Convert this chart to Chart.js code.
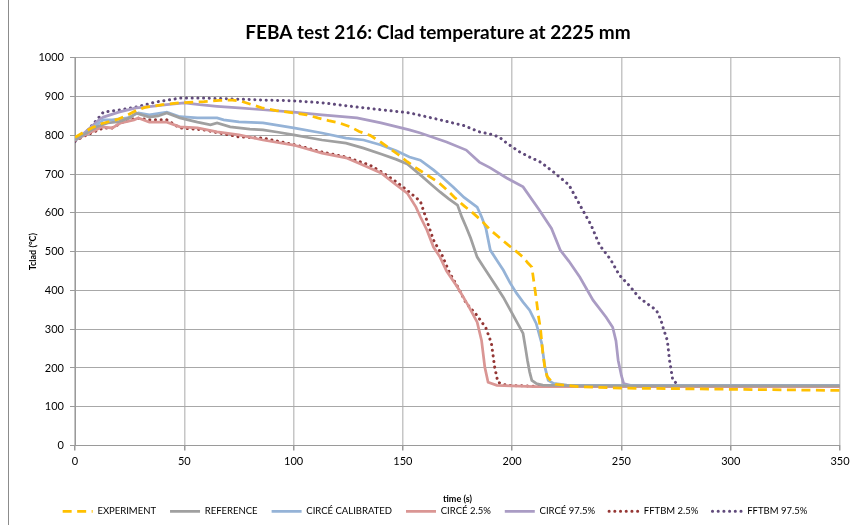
<!DOCTYPE html>
<html>
<head>
<meta charset="utf-8">
<script src="https://cdn.jsdelivr.net/npm/chart.js@4/dist/chart.umd.min.js"></script>
<style>
  body { margin: 0; background: #fff; }
  #wrap { width: 850px; height: 525px; }
</style>
</head>
<body>
<div id="wrap"><canvas id="chart" width="850" height="525"></canvas></div>
<script>
// time (s) / clad temperature (°C) for each curve
const expTime = [0, 4, 8, 12, 16, 20, 24, 28, 32, 40, 48, 59, 66, 72, 76, 81, 86, 92, 100, 106, 111, 116, 121, 126, 130, 135, 139, 143, 148, 152, 156, 161, 166, 170, 174, 178, 182, 186, 190, 194, 198, 202, 205, 207, 209, 210, 211, 212, 213, 214, 215, 216, 218, 220, 230, 250, 300, 350];
const expTemp = [795, 808, 820, 830, 836, 842, 852, 864, 872, 879, 884, 887, 890, 891, 888, 879, 870, 864, 858, 853, 845, 838, 832, 822, 810, 800, 786, 770, 750, 732, 716, 698, 680, 660, 638, 618, 600, 580, 556, 537, 518, 500, 486, 472, 460, 420, 380, 335, 300, 240, 200, 178, 165, 158, 152, 148, 145, 142];

const refTime = [0, 5, 10, 15, 20, 25, 28, 34, 38, 42, 48, 56, 62, 65, 71, 80, 86, 93, 100, 113, 124, 132, 140, 147, 152, 158, 163, 167, 171, 175, 177, 179, 181, 184, 187, 190, 193, 196, 200, 203, 205, 206, 207, 208, 209, 211, 214, 230, 350];
const refTemp = [788, 805, 822, 832, 835, 845, 857, 847, 850, 858, 845, 834, 827, 832, 822, 816, 814, 808, 801, 788, 780, 767, 752, 738, 726, 698, 673, 654, 636, 620, 589, 563, 535, 486, 460, 434, 408, 382, 341, 310, 289, 255, 220, 190, 168, 160, 156, 154, 154];

const calTime = [0, 5, 10, 13, 17, 24, 29, 34, 42, 48, 56, 65, 68, 75, 86, 100, 113, 124, 132, 140, 147, 153, 158, 164, 168, 173, 178, 184, 186, 188, 190, 193, 196, 199, 202, 205, 208, 211, 213.5, 215, 216.5, 219, 225, 350];
const calTemp = [788, 805, 828, 840, 840, 845, 858, 853, 860, 848, 845, 845, 840, 835, 832, 819, 806, 793, 788, 775, 760, 744, 736, 711, 692, 667, 640, 615, 590, 560, 504, 478, 452, 420, 393, 370, 349, 315, 264, 202, 168, 160, 156, 155];

const c25Time = [0, 5, 10, 12, 17, 21, 27, 29, 34, 42, 48, 56, 65, 75, 86, 100, 113, 124, 132, 140, 147, 152, 156, 158, 161, 164, 167, 170, 175, 180, 184, 186, 187.5, 189, 193, 210, 350];
const c25Temp = [788, 802, 815, 822, 819, 832, 840, 845, 834, 834, 822, 819, 809, 801, 788, 775, 754, 742, 723, 703, 672, 651, 615, 590, 556, 512, 486, 450, 408, 360, 318, 271, 202, 163, 155, 152, 152];

const c975Time = [0, 5, 11, 13, 20, 28, 35, 42, 50, 57, 65, 75, 86, 100, 113, 129, 140, 153, 158, 170, 179, 185, 190, 197.5, 205, 212.5, 218, 222, 226, 231, 237, 243, 246, 247.5, 248.5, 250, 251, 255, 350];
const c975Temp = [786, 810, 840, 847, 860, 871, 875, 879, 884, 879, 875, 871, 866, 860, 853, 845, 832, 814, 806, 783, 762, 731, 716, 690, 667, 607, 560, 504, 475, 434, 375, 331, 305, 270, 220, 180, 160, 154, 153];

const f25Time = [0, 5, 10, 13, 17, 21, 28, 34, 42, 48, 59, 66, 75, 86, 101, 113, 124, 135, 141, 147, 152, 158, 162, 164, 168, 171.5, 175, 179, 184, 188, 190.5, 192, 193.5, 197.5, 210, 350];
const f25Temp = [786, 800, 812, 819, 819, 832, 845, 840, 840, 819, 814, 806, 796, 793, 775, 757, 744, 723, 703, 680, 658, 630, 563, 530, 490, 444, 410, 367, 335, 303, 264, 202, 163, 155, 153, 153];

const f975Time = [0, 5, 10, 13, 21, 28, 37, 48, 59, 71, 86, 100, 113, 129, 140, 153, 167, 178, 185, 190, 194, 197.5, 203.5, 208, 213, 219, 226, 232, 236, 240, 245, 249, 254, 258, 262, 266, 268, 269, 271, 272, 273.5, 276.5, 350];
const f975Temp = [784, 808, 840, 860, 866, 873, 886, 896, 896, 894, 891, 889, 884, 873, 866, 858, 840, 825, 809, 803, 796, 780, 757, 744, 731, 705, 672, 610, 570, 517, 480, 440, 410, 382, 365, 349, 325, 305, 271, 220, 168, 155, 153];

const seriesNames = ['EXPERIMENT', 'REFERENCE', 'CIRCÉ CALIBRATED', 'CIRCÉ 2.5%', 'CIRCÉ 97.5%', 'FFTBM 2.5%', 'FFTBM 97.5%'];
const xTicks = [0, 50, 100, 150, 200, 250, 300, 350];
const yTicks = [0, 100, 200, 300, 400, 500, 600, 700, 800, 900, 1000];

const pts = (t, v) => t.map((x, i) => ({ x: x, y: v[i] }));

const FONT = 'Lato, "Open Sans", sans-serif';
const dotted = { borderDash: [0.1, 5.6], borderCapStyle: 'round' };

function line(label, data, color, extra) {
  return Object.assign({
    label: label,
    data: data,
    borderColor: color,
    backgroundColor: color,
    borderWidth: 2.75,
    pointRadius: 0,
    tension: 0,
    fill: false
  }, extra || {});
}

// thin grey frame down the left side, legend nudged a little left
const frame = {
  id: 'frame',
  afterLayout(chart) {
    chart.legend.left -= 3;
    chart.legend.right -= 3;
  },
  beforeDraw(chart) {
    const ctx = chart.ctx;
    ctx.save();
    ctx.strokeStyle = '#8c8c8c';
    ctx.lineWidth = 1;
    ctx.strokeRect(8.5, -2, 900, 540);
    ctx.restore();
  }
};

// legend samples use the dataset's own dash pattern
function legendLabels(chart) {
  const items = Chart.defaults.plugins.legend.labels.generateLabels(chart);
  items.forEach(it => {
    const ds = chart.data.datasets[it.datasetIndex];
    it.lineDash = ds.borderDash || [];
    it.lineCap = ds.borderCapStyle || 'butt';
    it.lineWidth = ds.borderWidth;
    it.strokeStyle = ds.borderColor;
    it.pointStyle = 'line';
  });
  return items;
}

new Chart(document.getElementById('chart'), {
  type: 'line',
  data: {
    datasets: [
      line(seriesNames[0], pts(expTime, expTemp), '#FFC000', { borderDash: [9, 5.5] }),
      line(seriesNames[1], pts(refTime, refTemp), '#A0A0A0'),
      line(seriesNames[2], pts(calTime, calTemp), '#95B3D7'),
      line(seriesNames[3], pts(c25Time, c25Temp), '#DA9694'),
      line(seriesNames[4], pts(c975Time, c975Temp), '#AA9CC4'),
      line(seriesNames[5], pts(f25Time, f25Temp), '#953735', Object.assign({ borderWidth: 3 }, dotted)),
      line(seriesNames[6], pts(f975Time, f975Temp), '#604A7B', Object.assign({ borderWidth: 3 }, dotted))
    ]
  },
  options: {
    responsive: false,
    animation: false,
    layout: { padding: { left: 36, right: 10, top: 0, bottom: -1 } },
    plugins: {
      title: {
        display: true,
        text: 'FEBA test 216: Clad temperature at 2225 mm',
        color: '#000',
        font: { family: FONT, size: 19, weight: 'bold' },
        padding: { top: 21, bottom: 14 }
      },
      legend: {
        position: 'bottom',
        labels: {
          usePointStyle: true,
          pointStyleWidth: 30,
          boxHeight: 10,
          color: '#000',
          font: { family: FONT, size: 9.5 },
          padding: 14,
          generateLabels: legendLabels
        }
      },
      tooltip: { enabled: false }
    },
    scales: {
      x: {
        type: 'linear',
        min: 0,
        max: 350,
        afterBuildTicks: s => { s.ticks = xTicks.map(v => ({ value: v })); },
        afterFit: s => { s.paddingRight = 0; s.paddingLeft = 0; s.height = 47; },
        ticks: { color: '#000', font: { family: FONT, size: 11 }, padding: 4, maxRotation: 0 },
        grid: { color: '#C6C6C6', lineWidth: 1.5, tickColor: '#9a9a9a', tickLength: 5 },
        border: { color: '#9a9a9a' },
        title: {
          display: true,
          text: 'time (s)',
          color: '#000',
          font: { family: FONT, size: 9, weight: 'bold' },
          padding: { top: 0, bottom: -11.5 }
        }
      },
      y: {
        min: 0,
        max: 1000,
        afterBuildTicks: s => { s.ticks = yTicks.map(v => ({ value: v })); },
        afterFit: s => { s.width = 39; },
        ticks: { color: '#000', font: { family: FONT, size: 11 }, padding: 6, callback: v => String(v) },
        grid: { color: '#A8A8A8', lineWidth: 1, tickColor: '#9a9a9a', tickLength: 5 },
        border: { color: '#9a9a9a' },
        title: {
          display: true,
          text: 'Tclad (°C)',
          color: '#000',
          font: { family: FONT, size: 9, weight: 'bold' },
          padding: { top: -8, bottom: 0 }
        }
      }
    }
  },
  plugins: [frame]
});
</script>
</body>
</html>
